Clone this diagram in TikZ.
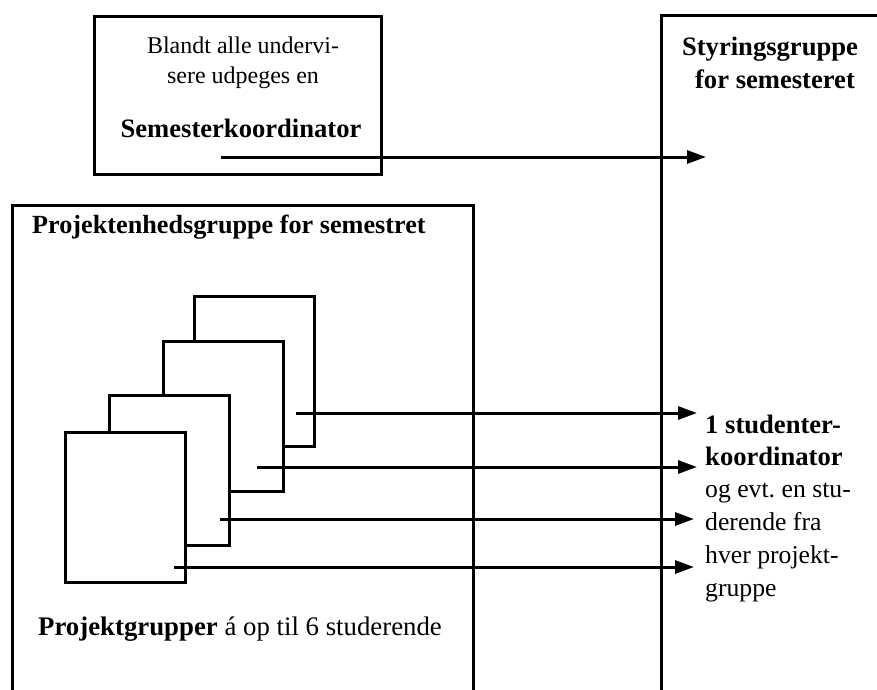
\documentclass[tikz,border=0pt]{standalone}
\usepackage{fontspec}
\setmainfont{Liberation Serif}
\usetikzlibrary{arrows.meta}
\frenchspacing
\begin{document}
\begin{tikzpicture}[x=1pt,y=-1pt,
  frame/.style={line width=3pt, line cap=rect},
  pg/.style={draw, line width=3pt, fill=white, anchor=north west, inner sep=0pt, minimum width=120pt, minimum height=150pt},
  link/.style={line width=3pt, -{Triangle[length=19pt,width=13pt]}},
  txt/.style={inner sep=0pt, font=\fontsize{25.7}{33}\selectfont},
  btxt/.style={inner sep=0pt, font=\fontsize{26.6}{33}\selectfont\bfseries}]
\useasboundingbox (0,0) rectangle (877,689);
% top box
\node[draw, line width=3pt, anchor=north west, inner sep=0pt, minimum width=287pt, minimum height=158pt] (top) at (93,15) {};
\node[txt, font=\fontsize{24}{30}\selectfont, anchor=base] (ta) at (243,53) {Blandt alle undervi-};
\node[txt, font=\fontsize{24}{30}\selectfont, anchor=base] (tb) at (243,83) {sere udpeges en};
\node[btxt, anchor=base] (sk) at (241,137) {Semesterkoordinator};
% steering group frame
\draw[frame] (661,689) -- (661,15) -- (877,15);
\node[btxt, anchor=base] (sg1) at (770,55) {Styringsgruppe};
\node[btxt, anchor=base] (sg2) at (775,88) {for semesteret};
% project unit frame
\draw[frame] (12,689) -- (12,205) -- (473,205) -- (473,689);
\node[btxt, font=\fontsize{26.2}{33}\selectfont\bfseries, anchor=base west] (pu) at (32,233) {Projektenhedsgruppe for semestret};
\node[txt, font=\fontsize{26.8}{33}\selectfont, anchor=base west] (pgl) at (38,635) {\textbf{Projektgrupper} á op til 6 studerende};
% project groups, back to front
\node[pg] (g4) at (193,295) {};
\node[pg] (g3) at (162,340) {};
\node[pg] (g2) at (108,394) {};
\node[pg] (g1) at (64,431) {};
% right text
\node[btxt, anchor=base west] (r1) at (705,433) {1 studenter-};
\node[btxt, anchor=base west] (r2) at (705,465) {koordinator};
\node[txt, anchor=base west] (r3) at (705,497) {og evt. en stu-};
\node[txt, anchor=base west] (r4) at (705,530) {derende fra};
\node[txt, anchor=base west] (r5) at (705,563) {hver projekt-};
\node[txt, anchor=base west] (r6) at (705,596) {gruppe};
% connector coordinates
\coordinate (s0) at (221,157); \coordinate (e0) at (706,157);
\coordinate (s1) at (296,413); \coordinate (e1) at (697,413);
\coordinate (s2) at (257,467); \coordinate (e2) at (697,467);
\coordinate (s3) at (220,519); \coordinate (e3) at (694,519);
\coordinate (s4) at (174,567); \coordinate (e4) at (694,567);
\draw[link] (s0) -- (e0);
\draw[link] (s1) -- (e1);
\draw[link] (s2) -- (e2);
\draw[link] (s3) -- (e3);
\draw[link] (s4) -- (e4);
\end{tikzpicture}
\end{document}
